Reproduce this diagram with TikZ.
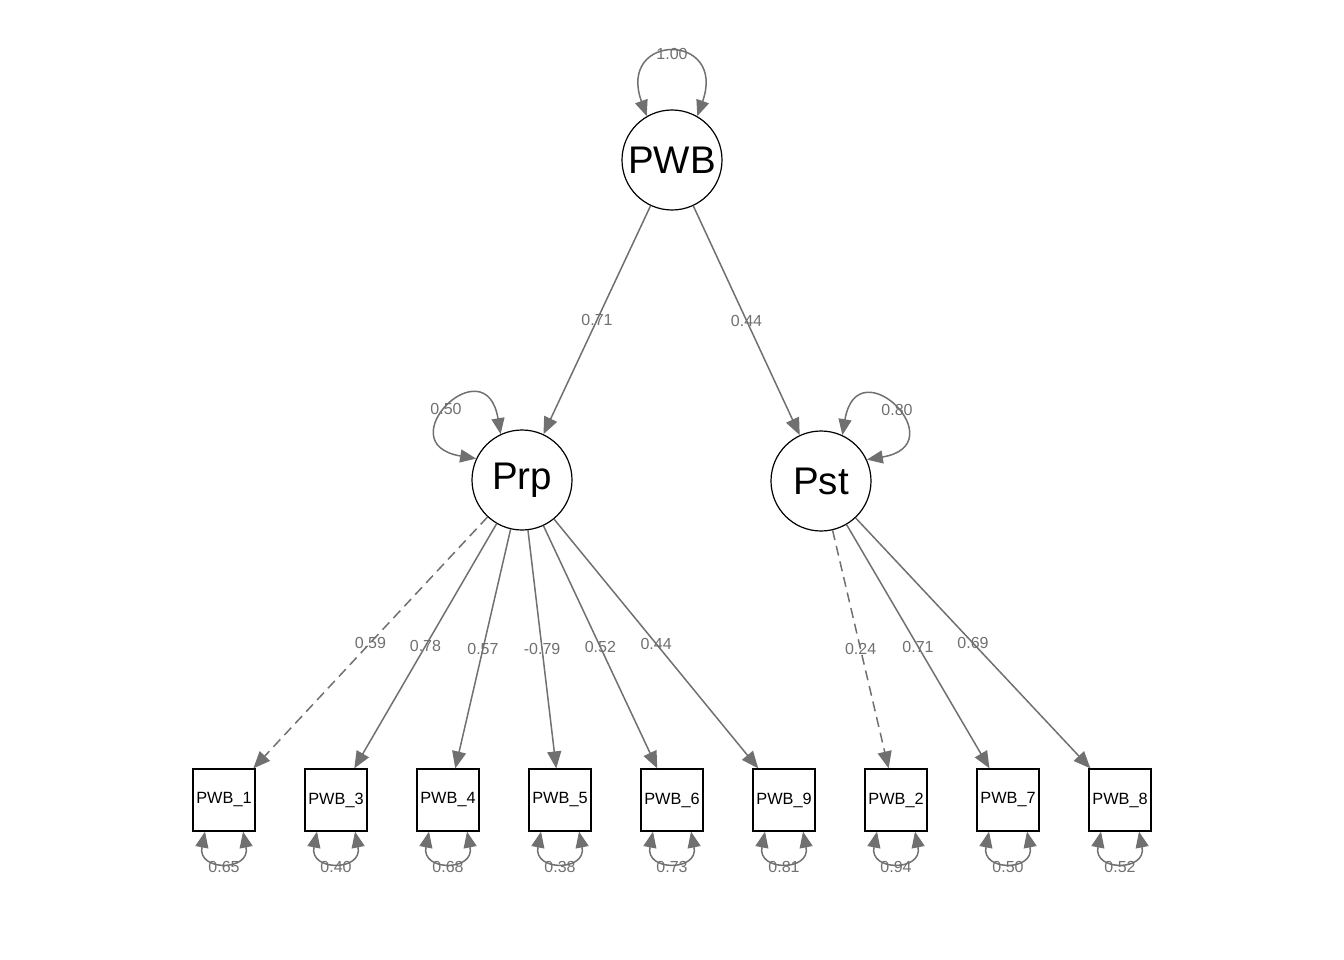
\documentclass[tikz,border=0pt]{standalone}
\usepackage{fontspec}
\setmainfont{Liberation Sans}
\usetikzlibrary{arrows.meta}
\definecolor{edgegray}{RGB}{112,112,112}
\begin{document}
\begin{tikzpicture}[x=1pt,y=-1pt,
  lat/.style={circle,draw=black,line width=1.2pt,minimum size=100pt,inner sep=0pt,font=\fontsize{38.5}{42}\selectfont},
  obs/.style={rectangle,draw=black,line width=1.2pt,minimum width=62pt,minimum height=62pt,inner sep=0pt,font=\fontsize{16.3}{19}\selectfont},
  load/.style={draw=edgegray,line width=1.5pt,-{Triangle[length=17pt,width=14pt]}},
  dload/.style={load,dash pattern=on 10pt off 6pt},
  vararrow/.style={draw=edgegray,line width=1.5pt,{Triangle[length=16pt,width=13pt]}-{Triangle[length=16pt,width=13pt]}},
  lab/.style={text=edgegray,font=\fontsize{16}{18}\selectfont,inner sep=1pt}]
\useasboundingbox (0,0) rectangle (1344,960);

\node[lat] (PWB) at (672,160) {PWB};
\node[lat] (Prp) at (522,480) {Prp};
\node[lat] (Pst) at (821,481) {Pst};

\node[obs] (b1) at (224,800) {PWB\_1};
\node[obs] (b3) at (336,800) {PWB\_3};
\node[obs] (b4) at (448,800) {PWB\_4};
\node[obs] (b5) at (560,800) {PWB\_5};
\node[obs] (b6) at (672,800) {PWB\_6};
\node[obs] (b9) at (784,800) {PWB\_9};
\node[obs] (b2) at (896,800) {PWB\_2};
\node[obs] (b7) at (1008,800) {PWB\_7};
\node[obs] (b8) at (1120,800) {PWB\_8};

% structural paths
\draw[load] (PWB) -- node[lab]{0.71} (Prp);
\draw[load] (PWB) -- node[lab]{0.44} (Pst);

% loadings
\draw[dload] (Prp) -- node[lab]{0.59} (b1);
\draw[load] (Prp) -- node[lab]{0.78} (b3);
\draw[load] (Prp) -- node[lab]{0.57} (b4);
\draw[load] (Prp) -- node[lab]{-0.79} (b5);
\draw[load] (Prp) -- node[lab]{0.52} (b6);
\draw[load] (Prp) -- node[lab]{0.44} (b9);
\draw[dload] (Pst) -- node[lab]{0.24} (b2);
\draw[load] (Pst) -- node[lab]{0.71} (b7);
\draw[load] (Pst) -- node[lab]{0.69} (b8);

% latent variances
\draw[vararrow] (PWB.120) .. controls +(-30,-84) and +(30,-84) .. node[lab,pos=0.5,yshift=-1pt]{1.00} (PWB.60);
\draw[vararrow] (Prp.115) .. controls +(-15,-90) and +(-90,-15) .. node[lab,pos=0.5,xshift=-3pt,yshift=-2pt]{0.50} (Prp.155);
\draw[vararrow] (Pst.65) .. controls +(15,-90) and +(90,-15) .. node[lab,pos=0.5,xshift=3pt,yshift=-2pt]{0.80} (Pst.25);

% residual variances
\foreach \b/\v in {b1/0.65,b3/0.40,b4/0.68,b5/0.38,b6/0.73,b9/0.81,b2/0.94,b7/0.50,b8/0.52}{
  \draw[vararrow] ([xshift=-19pt]\b.south) .. controls +(-8,40) and +(8,40) .. node[lab,pos=0.5,yshift=-5pt]{\v} ([xshift=19pt]\b.south);
}
\end{tikzpicture}
\end{document}
